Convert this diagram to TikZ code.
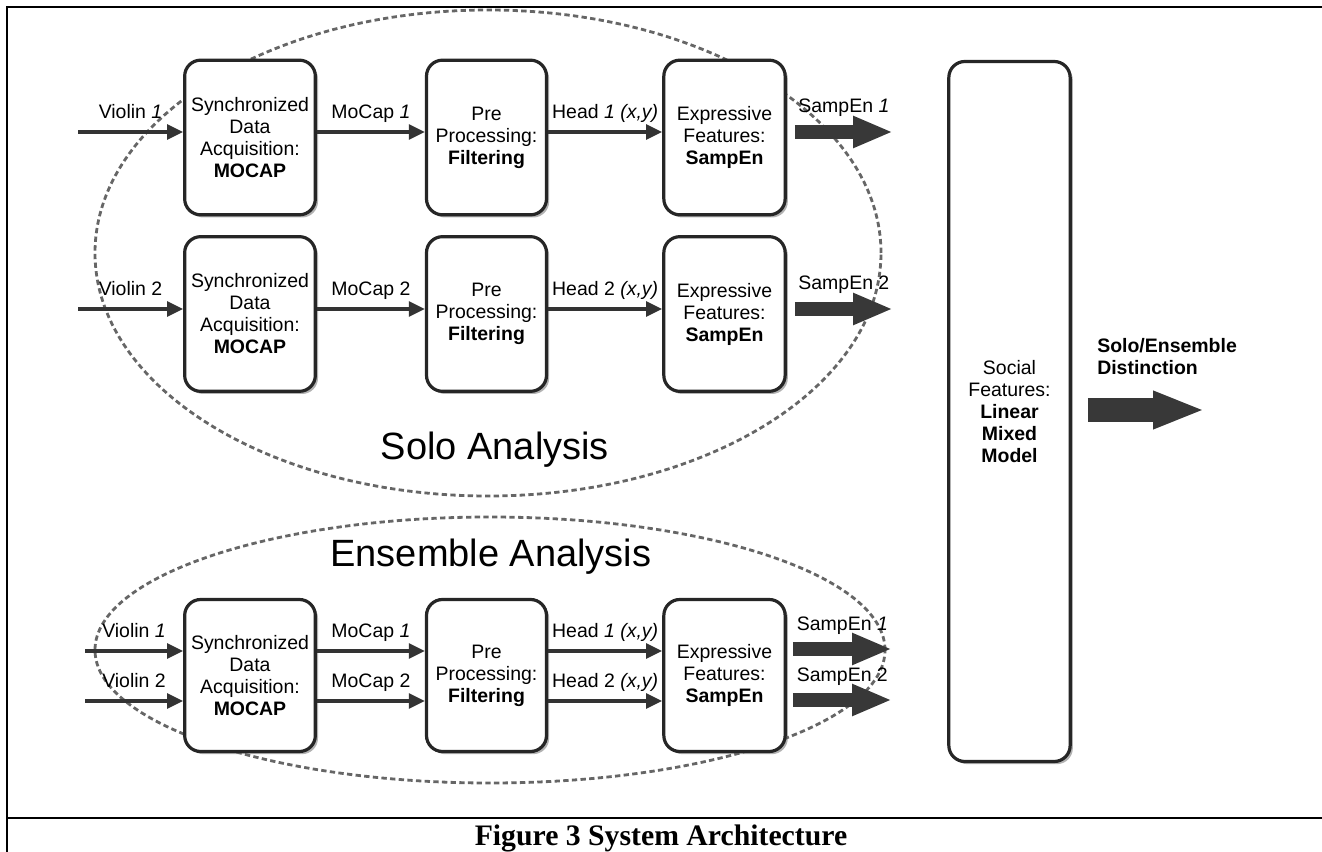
\documentclass[tikz,border=0pt]{standalone}
\usepackage{fontspec}
\setmainfont{Liberation Sans}
\newfontfamily\capfont{Liberation Serif}
\usepackage{tikz}
\usetikzlibrary{arrows.meta, shadows, calc}
\newcommand{\boxfont}{\fontsize{14.6}{16.5}\selectfont}

\begin{document}
\begin{tikzpicture}[x=0.75pt, y=-0.75pt,
    block/.style={draw=black!85, line width=2.4pt, rounded corners=12pt, fill=white,
        drop shadow={shadow xshift=2pt, shadow yshift=-2pt, fill=black!60},
        align=center, font=\boxfont, inner sep=0pt},
    syncbox/.style={block, minimum width=98pt, minimum height=116pt},
    prebox/.style={block, minimum width=90pt, minimum height=116pt},
    exprbox/.style={block, minimum width=91pt, minimum height=116pt},
    flow/.style={line width=2.6pt, draw=black!80, -{Triangle[length=12pt, width=11pt]}},
    fat/.style={line width=10.5pt, draw=black!78, -{Triangle[length=30pt, width=22pt]}},
    lab/.style={font=\boxfont, inner sep=1pt, text depth=0pt, above=8pt},
    group/.style={draw=black!60, line width=2.1pt, dash pattern=on 4pt off 2.5pt}]
    \useasboundingbox (0,0) rectangle (1322,852);

    % Frame and caption
    \draw[line width=1.5pt] (7,852) -- (7,7) -- (1322,7);
    \draw[line width=1.5pt] (7,818) -- (1322,818);
    \node[font=\capfont\bfseries\fontsize{22.3}{24}\selectfont] (cap) at (661,838) {Figure 3 System Architecture};

    % Groups
    \draw[group] (488,253) ellipse [x radius=294.75pt, y radius=182.25pt];
    \draw[group] (490,650) ellipse [x radius=296.25pt, y radius=99.75pt];
    \node[font=\fontsize{28.5}{30}\selectfont] (solo) at (495,450) {Solo Analysis};
    \node[font=\fontsize{28.5}{30}\selectfont] (ens) at (491,557) {Ensemble Analysis};

    % Solo, violin 1
    \node[syncbox] (syncA) at (250,137.5) {Synchronized\\Data\\Acquisition:\\\textbf{MOCAP}};
    \node[prebox] (preA) at (486.5,137.5) {Pre\\Processing:\\\textbf{Filtering}};
    \node[exprbox] (exprA) at (724.5,137.5) {Expressive\\Features:\\\textbf{SampEn}};
    \coordinate (inA) at (78,132);
    \coordinate (outA) at (893,132);
    \draw[flow] (inA) -- (inA -| syncA.west) node[lab, midway] {Violin \textit{1}};
    \draw[flow] (syncA.east |- inA) -- (preA.west |- inA) node[lab, midway] {MoCap \textit{1}};
    \draw[flow] (preA.east |- inA) -- (exprA.west |- inA) node[lab, midway] {Head \textit{1 (x,y)}};
    \draw[fat] ($(exprA.east |- outA)+(8,0)$) -- (outA) node[lab, midway] {SampEn \textit{1}};

    % Solo, violin 2
    \node[syncbox] (syncB) at (250,314) {Synchronized\\Data\\Acquisition:\\\textbf{MOCAP}};
    \node[prebox] (preB) at (486.5,314) {Pre\\Processing:\\\textbf{Filtering}};
    \node[exprbox] (exprB) at (724.5,314) {Expressive\\Features:\\\textbf{SampEn}};
    \coordinate (inB) at (78,309);
    \coordinate (outB) at (893,309);
    \draw[flow] (inB) -- (inB -| syncB.west) node[lab, midway] {Violin 2};
    \draw[flow] (syncB.east |- inB) -- (preB.west |- inB) node[lab, midway] {MoCap 2};
    \draw[flow] (preB.east |- inB) -- (exprB.west |- inB) node[lab, midway] {Head 2 \textit{(x,y)}};
    \draw[fat] ($(exprB.east |- outB)+(8,0)$) -- (outB) node[lab, midway] {SampEn 2};

    % Ensemble
    \node[syncbox, minimum height=114pt] (syncC) at (250,675.5) {Synchronized\\Data\\Acquisition:\\\textbf{MOCAP}};
    \node[prebox, minimum height=114pt] (preC) at (486.5,675.5) {Pre\\Processing:\\\textbf{Filtering}};
    \node[exprbox, minimum height=114pt] (exprC) at (724.5,675.5) {Expressive\\Features:\\\textbf{SampEn}};
    \coordinate (inC) at (85,651);
    \coordinate (inD) at (85,701);
    \coordinate (outC) at (892,649);
    \coordinate (outD) at (892,700);
    \draw[flow] (inC) -- (inC -| syncC.west) node[lab, midway] {Violin \textit{1}};
    \draw[flow] (inD) -- (inD -| syncC.west) node[lab, midway] {Violin 2};
    \draw[flow] (syncC.east |- inC) -- (preC.west |- inC) node[lab, midway] {MoCap \textit{1}};
    \draw[flow] (syncC.east |- inD) -- (preC.west |- inD) node[lab, midway] {MoCap 2};
    \draw[flow] (preC.east |- inC) -- (exprC.west |- inC) node[lab, midway] {Head \textit{1 (x,y)}};
    \draw[flow] (preC.east |- inD) -- (exprC.west |- inD) node[lab, midway] {Head 2 \textit{(x,y)}};
    \draw[fat] ($(exprC.east |- outC)+(6,0)$) -- (outC) node[lab, midway] {SampEn \textit{1}};
    \draw[fat] ($(exprC.east |- outD)+(6,0)$) -- (outD) node[lab, midway] {SampEn 2};

    % Social features
    \node[block, minimum width=91pt, minimum height=525pt] (social) at (1009.5,411.5)
        {Social\\Features:\\\textbf{Linear}\\\textbf{Mixed}\\\textbf{Model}};
    \coordinate (dec) at (1205,410);
    \draw[line width=18pt, draw=black!78, -{Triangle[length=39pt, width=26pt]}]
        ($(social.east |- dec)+(16,0)$) -- (dec);
    \node[font=\boxfont\bfseries, align=left, anchor=north west, inner sep=0pt] (dist) at (1097,338)
        {Solo/Ensemble\\Distinction};
\end{tikzpicture}
\end{document}
